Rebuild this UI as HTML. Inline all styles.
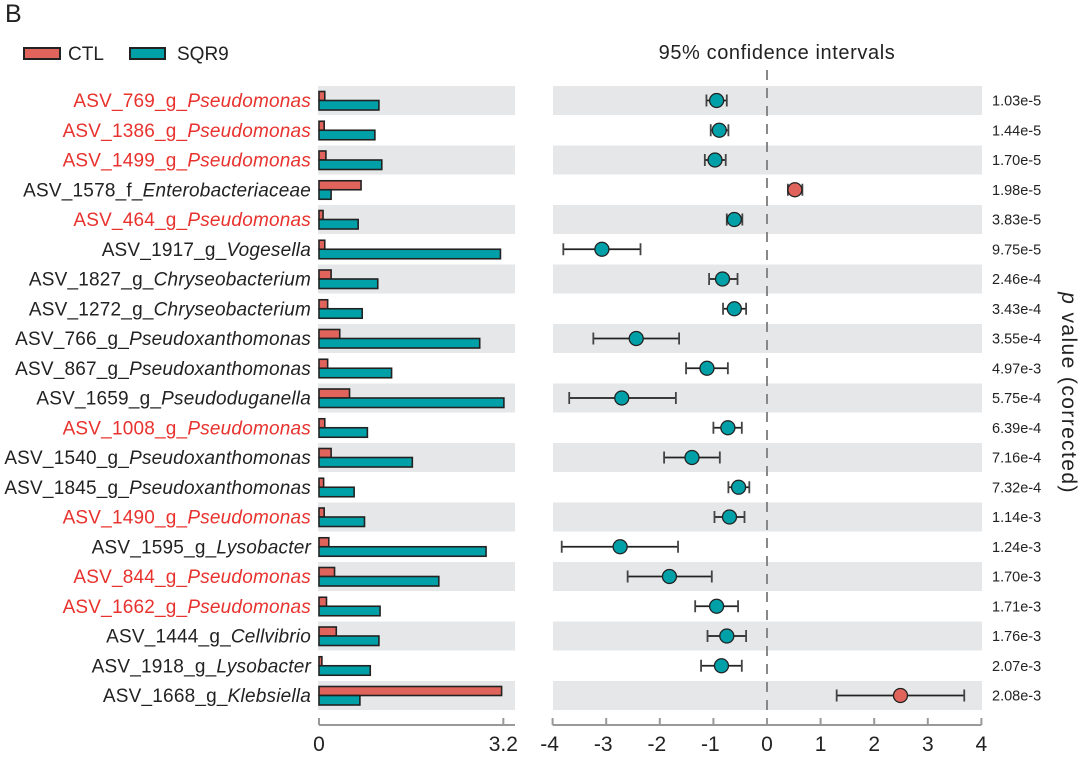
<!DOCTYPE html>
<html><head><meta charset="utf-8"><style>
body{margin:0;background:#fff;font-family:"Liberation Sans",Arial,sans-serif}
svg text{font-family:"Liberation Sans",Arial,sans-serif}
</style></head><body>
<svg id="chart" width="1080" height="754" viewBox="0 0 1080 754">
<text x="5" y="22" font-size="25" fill="#222">B</text>
<g>
<rect x="24" y="48" width="36" height="11" fill="#e0645c" stroke="#222" stroke-width="2"/>
<text x="68" y="60" font-size="19" fill="#222">CTL</text>
<rect x="130" y="48" width="35" height="11" fill="#00a0a8" stroke="#222" stroke-width="2"/>
<text x="177" y="60" font-size="19" fill="#222">SQR9</text>
</g>
<text x="777" y="59" font-size="20" letter-spacing="0.6" fill="#222" text-anchor="middle">95% confidence intervals</text>
<text transform="translate(1062,393) rotate(90)" font-size="21" letter-spacing="1.4" fill="#222" text-anchor="middle"><tspan font-style="italic">p</tspan> value (corrected)</text>
<g id="rows"></g>
<g id="axes"></g>
</svg>
<script>
const labelsPre = ["ASV_769_g_","ASV_1386_g_","ASV_1499_g_","ASV_1578_f_","ASV_464_g_","ASV_1917_g_","ASV_1827_g_","ASV_1272_g_","ASV_766_g_","ASV_867_g_","ASV_1659_g_","ASV_1008_g_","ASV_1540_g_","ASV_1845_g_","ASV_1490_g_","ASV_1595_g_","ASV_844_g_","ASV_1662_g_","ASV_1444_g_","ASV_1918_g_","ASV_1668_g_"];
const labelsTaxon = ["Pseudomonas","Pseudomonas","Pseudomonas","Enterobacteriaceae","Pseudomonas","Vogesella","Chryseobacterium","Chryseobacterium","Pseudoxanthomonas","Pseudoxanthomonas","Pseudoduganella","Pseudomonas","Pseudoxanthomonas","Pseudoxanthomonas","Pseudomonas","Lysobacter","Pseudomonas","Pseudomonas","Cellvibrio","Lysobacter","Klebsiella"];
const ctlValues = [0.10,0.09,0.12,0.73,0.07,0.10,0.21,0.15,0.36,0.15,0.53,0.10,0.21,0.08,0.09,0.17,0.27,0.13,0.30,0.05,3.17];
const sqr9Values = [1.04,0.97,1.09,0.21,0.68,3.15,1.02,0.75,2.79,1.26,3.21,0.84,1.62,0.61,0.79,2.90,2.08,1.06,1.04,0.89,0.71];
const diffValues = [-0.94,-0.89,-0.97,0.52,-0.61,-3.08,-0.83,-0.61,-2.44,-1.12,-2.71,-0.73,-1.40,-0.53,-0.70,-2.74,-1.82,-0.94,-0.75,-0.85,2.49];
const ciLow = [-1.13,-1.05,-1.16,0.39,-0.75,-3.80,-1.08,-0.82,-3.24,-1.51,-3.69,-1.00,-1.92,-0.72,-0.98,-3.83,-2.60,-1.34,-1.11,-1.23,1.30];
const ciHigh = [-0.75,-0.72,-0.77,0.66,-0.46,-2.36,-0.55,-0.39,-1.64,-0.73,-1.70,-0.47,-0.88,-0.33,-0.42,-1.66,-1.03,-0.54,-0.39,-0.47,3.68];
const pValues = ["1.03e-5","1.44e-5","1.70e-5","1.98e-5","3.83e-5","9.75e-5","2.46e-4","3.43e-4","3.55e-4","4.97e-3","5.75e-4","6.39e-4","7.16e-4","7.32e-4","1.14e-3","1.24e-3","1.70e-3","1.71e-3","1.76e-3","2.07e-3","2.08e-3"];
const redLabel = [1,1,1,0,1,0,0,0,0,0,0,1,0,0,1,0,1,1,0,0,0];
const barTicks = [0,3.2];
const ciTicks = [-4,-3,-2,-1,0,1,2,3,4];

const NS="http://www.w3.org/2000/svg";
const xBar = v => 319 + v*57.6;
const xCi = v => 767 + v*53.6;
const yRow = i => 100.5 + i*29.75;
const RED="#e0645c", TEAL="#00a0a8";
function mk(tag, attrs, parent){const e=document.createElementNS(NS,tag);for(const k in attrs)e.setAttribute(k,attrs[k]);parent.appendChild(e);return e;}
const rows=document.getElementById('rows');
for(let i=0;i<labelsPre.length;i++){
  const y=yRow(i);
  if(i%2===0){
    const b1=mk('rect',{x:318,y:y-14.5,width:197,height:29,fill:'#e6e7e8'},rows);
    
    
    const b2=mk('rect',{x:553,y:y-14.5,width:429,height:29,fill:'#e6e7e8'},rows);
    
    
  }
  const t=mk('text',{x:311,y:y+6.5,'font-size':19,'letter-spacing':0.2,'text-anchor':'end',fill:redLabel[i]?'#e8322e':'#222'},rows);
  
  
  t.appendChild(document.createTextNode(labelsPre[i]));
  const ts=mk('tspan',{'font-style':'italic'},t);ts.textContent=labelsTaxon[i];
  const c=mk('rect',{x:xBar(0),y:y-9,width:Math.max(xBar(ctlValues[i])-xBar(0),1),height:9,fill:RED,stroke:'#222','stroke-width':1.6},rows);
  
  
  const s=mk('rect',{x:xBar(0),y:y,width:xBar(sqr9Values[i])-xBar(0),height:9.5,fill:TEAL,stroke:'#222','stroke-width':1.6},rows);
  
  
  const l=mk('line',{x1:xCi(ciLow[i]),x2:xCi(ciHigh[i]),y1:y,y2:y,stroke:'#222','stroke-width':1.8},rows);
  
  
  for(const v of [ciLow[i],ciHigh[i]]){
    const cap=mk('line',{x1:xCi(v),x2:xCi(v),y1:y-6,y2:y+6,stroke:'#444','stroke-width':1.8},rows);
    
    
  }
  const p=mk('circle',{cx:xCi(diffValues[i]),cy:y,r:7,fill:diffValues[i]>0?RED:TEAL,stroke:'#222','stroke-width':1.3},rows);
  
  
  const pv=mk('text',{x:992,y:y+5,'font-size':14.5,fill:'#222'},rows);
  
  
  pv.textContent=pValues[i];
}
const axes=document.getElementById('axes');
const dash=mk('line',{x1:767,x2:767,y1:70,y2:712,stroke:'#888','stroke-width':2,'stroke-dasharray':'10,8'},axes);


const ax1=mk('line',{x1:xBar(0),x2:515,y1:725,y2:725,stroke:'#999','stroke-width':2},axes);


for(const v of barTicks){
  const tk=mk('line',{x1:xBar(v),x2:xBar(v),y1:718,y2:725,stroke:'#999','stroke-width':2},axes);
  
  
  const tl=mk('text',{x:xBar(v),y:751,'font-size':21,'text-anchor':'middle',fill:'#222'},axes);
  
  
  tl.textContent=String(v);
}
const ax2=mk('line',{x1:xCi(-4),x2:xCi(4),y1:725,y2:725,stroke:'#999','stroke-width':2},axes);


for(const v of ciTicks){
  const tk=mk('line',{x1:xCi(v),x2:xCi(v),y1:718,y2:725,stroke:'#999','stroke-width':2},axes);
  
  
  const tl=mk('text',{x:xCi(v)-(v<0?3:0),y:751,'font-size':21,'text-anchor':'middle',fill:'#222'},axes);
  
  
  tl.textContent=String(v);
}
</script>
</body></html>
